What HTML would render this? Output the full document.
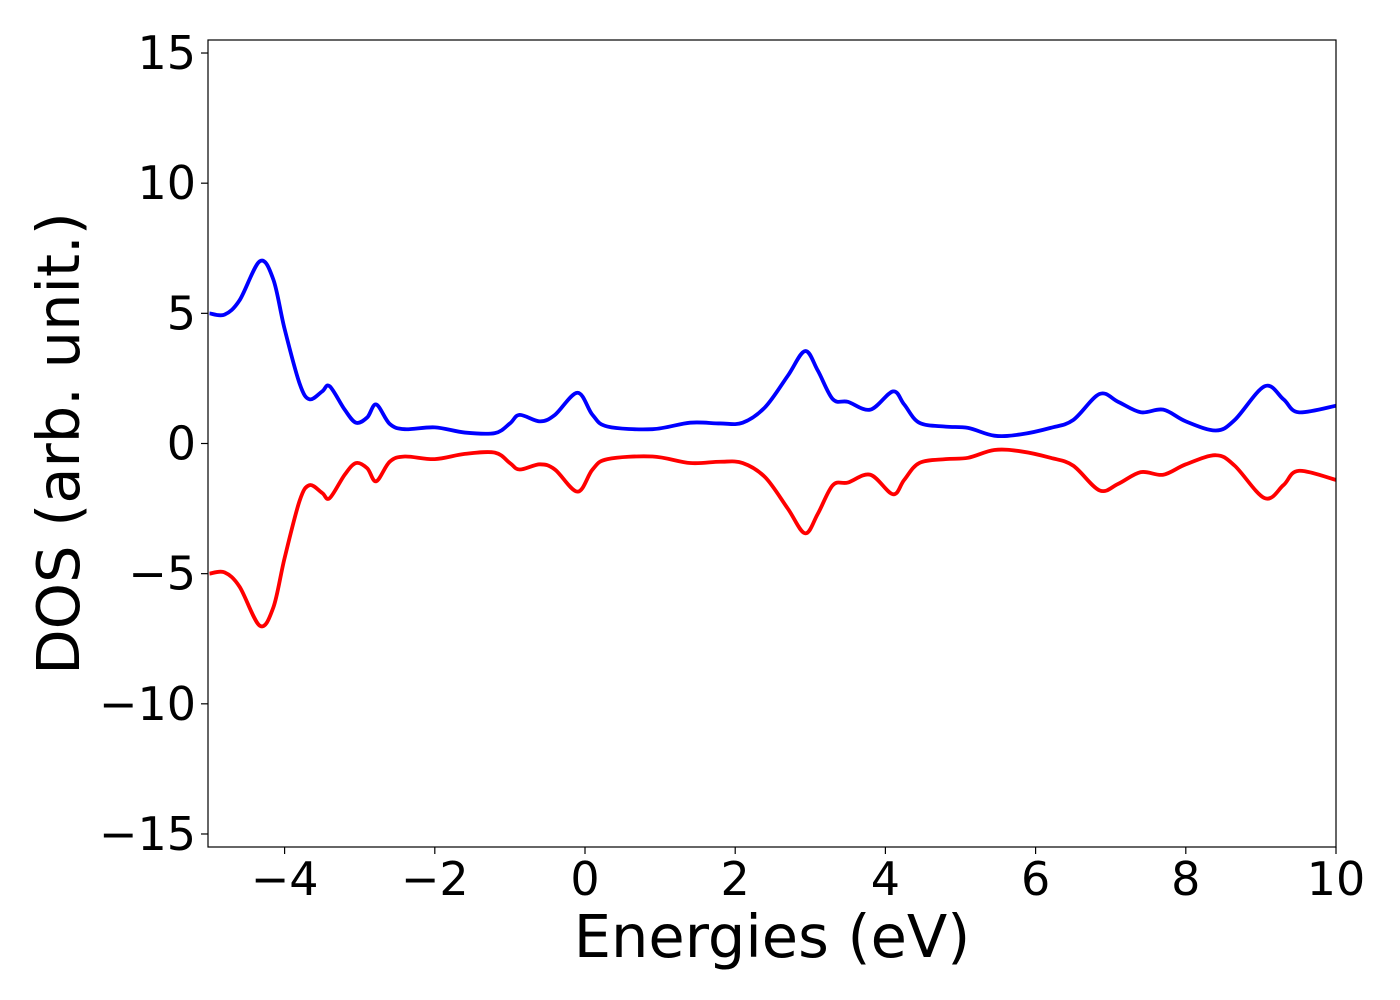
<!DOCTYPE html>
<html><head><meta charset="utf-8"><style>
html,body{margin:0;padding:0;background:#fff;}
svg{display:block;font-family:"DejaVu Sans","Liberation Sans",sans-serif;}
</style></head><body>
<svg id="chart" width="1400" height="1000">
<g id="axes"></g>
</svg>
<script>
const energies = [-5.0,-4.8,-4.6,-4.33,-4.15,-4.0,-3.8,-3.67,-3.5,-3.4,-3.2,-3.05,-2.9,-2.78,-2.6,-2.4,-2.0,-1.6,-1.2,-1.0,-0.87,-0.6,-0.4,-0.1,0.1,0.3,0.9,1.4,1.8,2.1,2.4,2.7,2.93,3.1,3.3,3.5,3.8,4.1,4.25,4.45,4.8,5.1,5.45,5.8,6.2,6.5,6.85,7.1,7.4,7.7,8.0,8.4,8.65,9.05,9.3,9.5,10.0];
const dosUp = [5.0,4.95,5.5,7.0,6.3,4.4,2.3,1.7,2.0,2.2,1.3,0.8,1.0,1.5,0.75,0.55,0.62,0.42,0.4,0.77,1.1,0.85,1.1,1.95,1.1,0.65,0.55,0.8,0.77,0.8,1.4,2.6,3.55,2.8,1.7,1.6,1.3,2.0,1.5,0.8,0.65,0.6,0.3,0.35,0.6,0.9,1.9,1.6,1.2,1.3,0.85,0.5,0.9,2.2,1.7,1.2,1.45];
const dosDown = [-5.0,-4.95,-5.5,-7.0,-6.3,-4.4,-2.2,-1.6,-1.9,-2.1,-1.2,-0.75,-0.95,-1.45,-0.7,-0.5,-0.6,-0.4,-0.35,-0.75,-1.0,-0.8,-1.0,-1.85,-1.0,-0.6,-0.5,-0.75,-0.7,-0.75,-1.3,-2.5,-3.45,-2.7,-1.6,-1.5,-1.2,-1.95,-1.4,-0.75,-0.6,-0.55,-0.25,-0.3,-0.55,-0.85,-1.8,-1.55,-1.1,-1.2,-0.8,-0.45,-0.85,-2.1,-1.6,-1.05,-1.4];
const xTicks = [-4,-2,0,2,4,6,8,10];
const yTicks = [-15,-10,-5,0,5,10,15];

const L=208,R=1336,T=40,B=847;
const xmin=-5.02,xmax=10,ymin=-15.5,ymax=15.5;
const sx=v=>L+(v-xmin)/(xmax-xmin)*(R-L);
const sy=v=>B-(v-ymin)/(ymax-ymin)*(B-T);
const NS="http://www.w3.org/2000/svg";
const g=document.getElementById('axes');
function mk(tag,attrs,parent){const e=document.createElementNS(NS,tag);for(const k in attrs)e.setAttribute(k,attrs[k]);(parent||g).appendChild(e);return e;}

const clip=mk('clipPath',{id:'pc'});mk('rect',{x:L,y:T,width:R-L,height:B-T},clip);

function pathFor(xs,ys){
  const p=xs.map((x,i)=>[sx(x),sy(ys[i])]);
  let d=`M${p[0][0]},${p[0][1]}`;
  for(let i=0;i<p.length-1;i++){
    const p0=p[Math.max(i-1,0)],p1=p[i],p2=p[i+1],p3=p[Math.min(i+2,p.length-1)];
    const c1=[p1[0]+(p2[0]-p0[0])/6,p1[1]+(p2[1]-p0[1])/6];
    const c2=[p2[0]-(p3[0]-p1[0])/6,p2[1]-(p3[1]-p1[1])/6];
    d+=`C${c1[0]},${c1[1]} ${c2[0]},${c2[1]} ${p2[0]},${p2[1]}`;
  }
  return d;
}
const up=mk('path',{d:pathFor(energies,dosUp),fill:'none',stroke:'#0000ff','stroke-width':3.8,'stroke-linejoin':'round','clip-path':'url(#pc)'});


const dn=mk('path',{d:pathFor(energies,dosDown),fill:'none',stroke:'#ff0000','stroke-width':3.8,'stroke-linejoin':'round','clip-path':'url(#pc)'});



const frame=mk('rect',{x:L,y:T,width:R-L,height:B-T,fill:'none',stroke:'#000','stroke-width':1.2});



xTicks.forEach(v=>{
  const x=sx(v);
  mk('line',{x1:x,x2:x,y1:B,y2:B+7,stroke:'#000','stroke-width':1.2});
  const t=mk('text',{x:x,y:B+48,'font-size':46,'text-anchor':'middle'});
  t.textContent=(v<0?'\u2212':'')+Math.abs(v);
  
  
});
yTicks.forEach(v=>{
  const y=sy(v);
  mk('line',{x1:L-7,x2:L,y1:y,y2:y,stroke:'#000','stroke-width':1.2});
  const t=mk('text',{x:L-12,y:y+16,'font-size':46,'text-anchor':'end'});
  t.textContent=(v<0?'\u2212':'')+Math.abs(v);
  
  
});
const xl=mk('text',{x:(L+R)/2,y:957,'font-size':59,'text-anchor':'middle'});
xl.textContent='Energies (eV)';


const yl=mk('text',{x:0,y:0,'font-size':59,'text-anchor':'middle',transform:`translate(79,${(T+B)/2}) rotate(-90)`});
yl.textContent='DOS (arb. unit.)';


</script>
</body></html>
